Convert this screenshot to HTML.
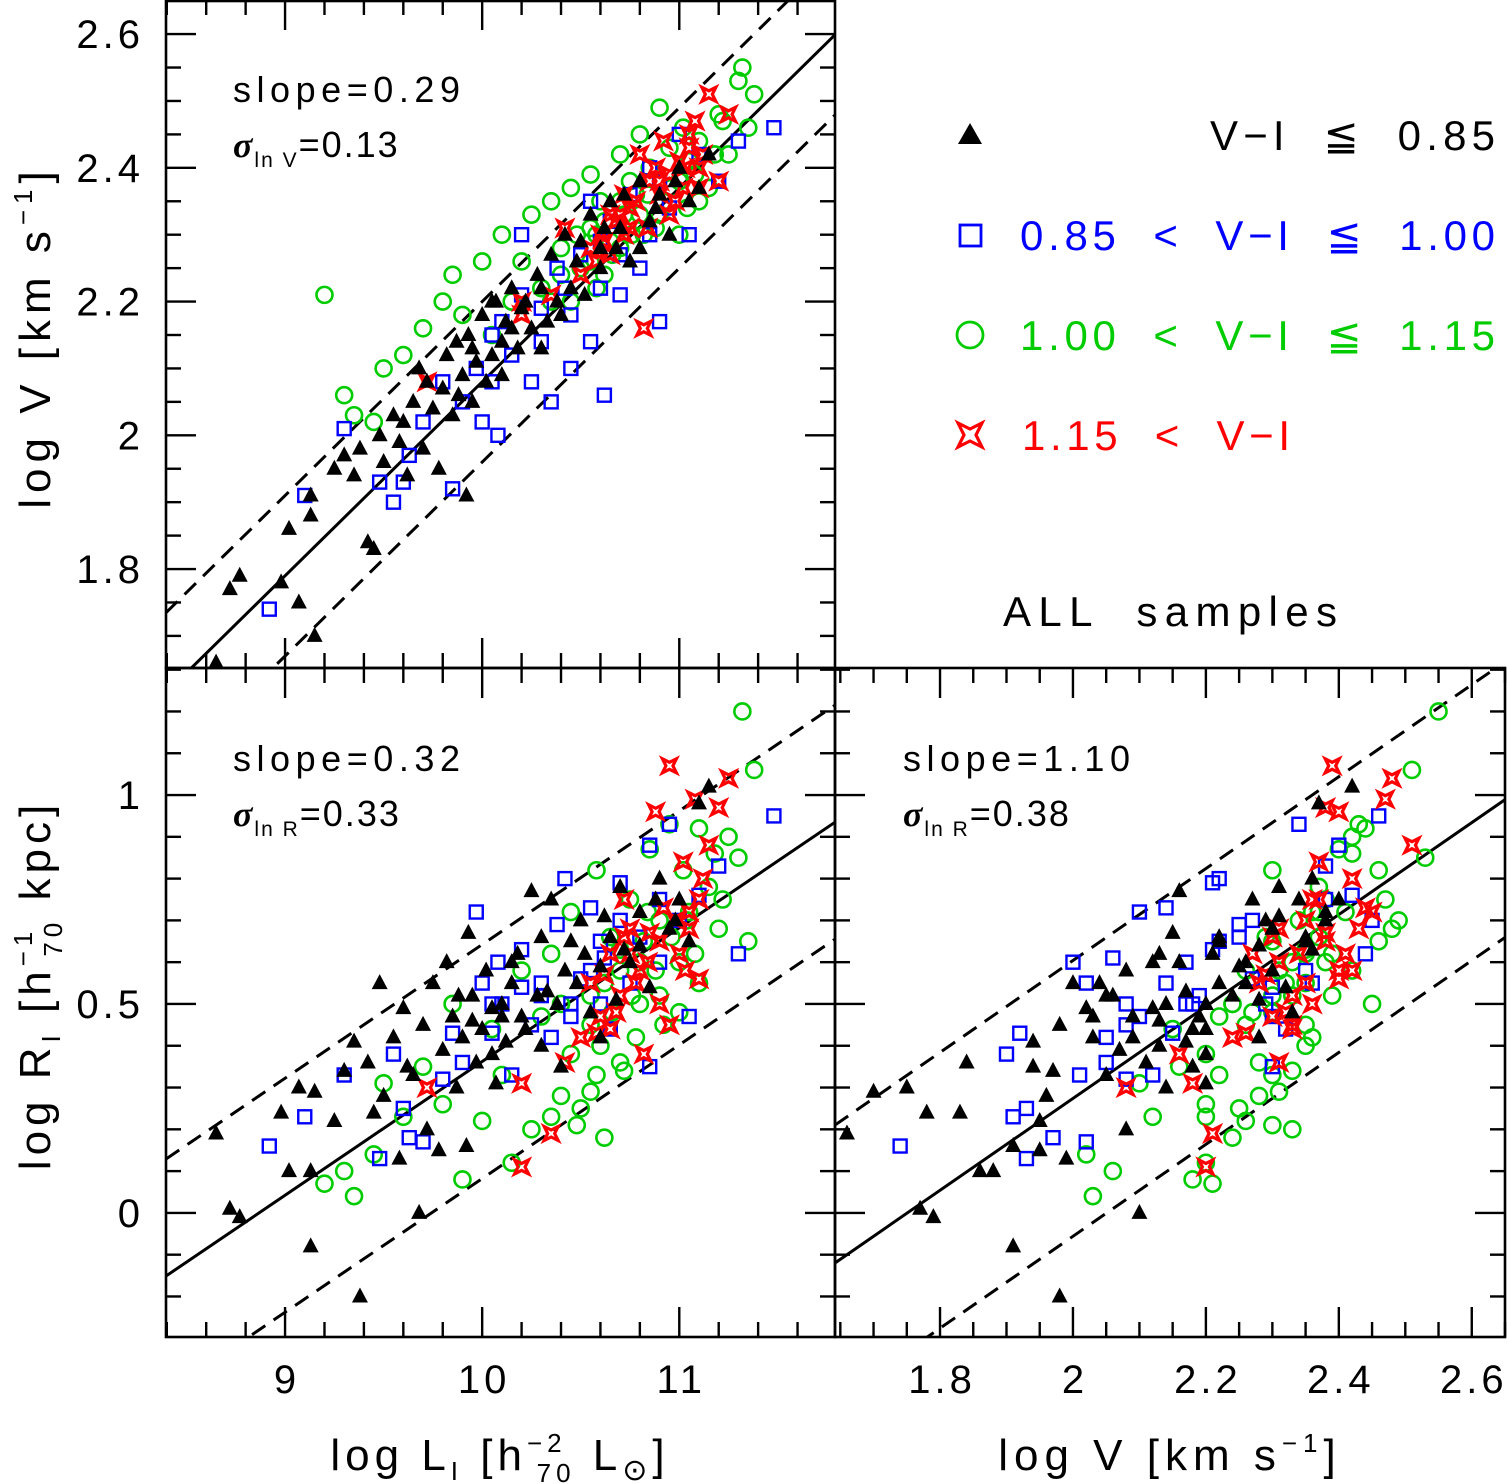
<!DOCTYPE html>
<html><head><meta charset="utf-8"><style>
html,body{margin:0;padding:0;background:#fff}
svg{display:block}
text{font-family:"Liberation Sans",sans-serif;fill:#000}
</style></head><body>
<svg id="chart" width="1507" height="1484" viewBox="0 0 1507 1484" xmlns="http://www.w3.org/2000/svg">
<g id="layer"></g>
<!-- inner annotations -->
<text x="233" y="102" font-size="36" textLength="227" lengthAdjust="spacing">slope=0.29</text>
<text x="233" y="157" font-size="36" letter-spacing="2"><tspan font-family="Liberation Serif" font-style="italic" font-weight="bold">σ</tspan><tspan font-size="21" dy="10">ln V</tspan><tspan dy="-10">=0.13</tspan></text>
<text x="233" y="771" font-size="36" textLength="227" lengthAdjust="spacing">slope=0.32</text>
<text x="233" y="826" font-size="36" letter-spacing="2"><tspan font-family="Liberation Serif" font-style="italic" font-weight="bold">σ</tspan><tspan font-size="21" dy="10">ln R</tspan><tspan dy="-10">=0.33</tspan></text>
<text x="903" y="771" font-size="36" textLength="227" lengthAdjust="spacing">slope=1.10</text>
<text x="903" y="826" font-size="36" letter-spacing="2"><tspan font-family="Liberation Serif" font-style="italic" font-weight="bold">σ</tspan><tspan font-size="21" dy="10">ln R</tspan><tspan dy="-10">=0.38</tspan></text>
<!-- legend -->
<g>
<polygon points="970,123 958,144 982,144" fill="#000"/>
<text x="1210" y="150" font-size="42" textLength="285" lengthAdjust="spacing" xml:space="preserve">V−I  ≦  0.85</text>
<rect x="960" y="225" width="21" height="21" fill="none" stroke="#0000ff" stroke-width="2.8"/>
<text x="1020" y="250" font-size="42" textLength="475" lengthAdjust="spacing" style="fill:#0000ff" xml:space="preserve">0.85  &lt;  V−I  ≦  1.00</text>
<circle cx="970" cy="335" r="13" fill="none" stroke="#00cc00" stroke-width="2.8"/>
<text x="1020" y="350" font-size="42" textLength="475" lengthAdjust="spacing" style="fill:#00cc00" xml:space="preserve">1.00  &lt;  V−I  ≦  1.15</text>
<path d="M958,423 L970,429 L982,423 L976,435 L982,447 L970,441 L958,447 L964,435 Z" fill="none" stroke="#ff0000" stroke-width="3.2"/>
<text x="1022" y="450" font-size="42" textLength="268" lengthAdjust="spacing" style="fill:#ff0000" xml:space="preserve">1.15  &lt;  V−I</text>
<text x="1003" y="626" font-size="42" textLength="334" lengthAdjust="spacing" xml:space="preserve">ALL  samples</text>
</g>
<!-- axis titles -->
<text transform="translate(50,337) rotate(-90)" font-size="44" letter-spacing="6" text-anchor="middle">log V [km s<tspan font-size="26" dy="-18">−1</tspan><tspan dy="18">]</tspan></text>
<text transform="translate(50,985) rotate(-90)" font-size="44" letter-spacing="5" text-anchor="middle">log R<tspan font-size="26" dy="10">I</tspan><tspan dy="-10"> [h</tspan><tspan font-size="26" dy="-18">−1</tspan><tspan font-size="26" dx="-30" dy="30">70</tspan><tspan dy="-12"> kpc]</tspan></text>
<text x="500" y="1470" font-size="44" letter-spacing="5" text-anchor="middle">log L<tspan font-size="26" dy="10">I</tspan><tspan dy="-10"> [h</tspan><tspan font-size="26" dy="-18">−2</tspan><tspan font-size="26" dx="-30" dy="30">70</tspan><tspan dy="-12"> L</tspan><tspan font-size="30" dy="10">⊙</tspan><tspan dy="-10">]</tspan></text>
<text x="1170" y="1470" font-size="44" letter-spacing="6" text-anchor="middle">log V [km s<tspan font-size="26" dy="-18">−1</tspan><tspan dy="18">]</tspan></text>
</svg>
<script>
// galaxies: [log L, log V, log R]
const blackPts=[[8.65,1.66,0.19],[8.72,1.77,0.01],[8.77,1.79,-0.01],[8.98,1.78,0.24],[9.02,1.86,0.10],[9.07,1.75,0.30],[9.13,1.91,-0.08],[9.15,1.70,0.29],[9.13,1.88,0.10],[9.25,1.95,0.22],[9.3,1.97,0.34],[9.35,1.94,0.41],[9.38,1.98,-0.2],[9.42,1.84,0.36],[9.45,1.83,0.24],[9.48,2.0,0.55],[9.5,1.96,0.28],[9.55,2.03,0.42],[9.58,1.99,0.13],[9.6,2.02,0.49],[9.62,1.94,0.35],[9.65,2.05,0.33],[9.68,2.1,0.0],[9.7,1.98,0.45],[9.72,2.08,0.2],[9.75,2.04,0.55],[9.78,1.95,0.15],[9.8,2.07,0.39],[9.82,2.12,0.6],[9.85,2.03,0.47],[9.87,2.14,0.3],[9.9,2.09,0.42],[9.92,1.91,0.16],[9.93,2.15,0.67],[9.95,2.05,0.52],[9.97,2.11,0.36],[10.0,2.18,0.44],[10.02,2.08,0.58],[10.05,2.12,0.49],[10.07,2.2,0.31],[10.1,2.14,0.5],[10.12,2.17,0.41],[10.15,2.22,0.55],[10.18,2.13,0.62],[10.2,2.19,0.47],[10.25,2.16,0.77],[10.28,2.24,0.52],[10.3,2.13,0.4],[10.35,2.27,0.75],[10.38,2.2,0.5],[10.42,2.3,0.58],[10.45,2.22,0.65],[10.5,2.29,0.7],[10.55,2.33,0.48],[10.6,2.25,0.59],[10.65,2.35,0.66],[10.7,2.31,0.78],[10.75,2.26,0.6],[10.8,2.38,0.72],[10.85,2.32,0.54],[10.9,2.36,0.8],[10.95,2.3,0.68],[11.0,2.4,0.75],[11.05,2.35,0.65],[11.1,2.37,0.98],[11.15,2.42,1.02],[10.4,2.18,0.35],[10.6,2.28,0.42],[10.8,2.28,0.64],[10.1,2.09,0.47],[10.15,2.16,0.6],[10.22,2.2,0.44],[10.3,2.22,0.66],[10.33,2.17,0.53],[10.48,2.26,0.55],[10.52,2.21,0.62],[10.62,2.31,0.71],[10.68,2.28,0.51],[10.72,2.36,0.63],[10.88,2.34,0.75],[10.98,2.38,0.7],[9.88,2.06,0.52],[9.95,2.13,0.46],[10.05,2.2,0.38]];
const bluePts=[[8.92,1.74,0.16],[9.1,1.91,0.23],[9.3,2.01,0.33],[9.48,1.93,0.13],[9.55,1.9,0.38],[9.6,1.93,0.25],[9.63,1.97,0.18],[9.7,2.02,0.17],[9.8,2.08,0.32],[9.85,1.92,0.43],[9.9,2.05,0.36],[9.97,2.1,0.72],[10.0,2.02,0.55],[10.05,2.15,0.43],[10.08,2.0,0.6],[10.1,2.17,0.5],[10.15,2.12,0.33],[10.2,2.21,0.63],[10.25,2.08,0.45],[10.3,2.19,0.52],[10.35,2.05,0.42],[10.38,2.25,0.69],[10.42,2.22,0.8],[10.45,2.1,0.47],[10.5,2.27,0.56],[10.55,2.14,0.73],[10.6,2.29,0.5],[10.62,2.06,0.61],[10.65,2.32,0.44],[10.7,2.21,0.79],[10.75,2.36,0.55],[10.8,2.25,0.66],[10.85,2.4,0.88],[10.9,2.17,0.6],[10.95,2.34,0.93],[11.0,2.45,0.7],[11.05,2.3,0.47],[11.1,2.42,0.76],[11.2,2.38,0.83],[11.3,2.44,0.62],[11.48,2.46,0.95],[10.85,2.3,0.35],[10.55,2.35,0.58],[10.2,2.3,0.54],[10.3,2.14,0.55],[10.45,2.18,0.5],[10.6,2.22,0.65],[10.7,2.27,0.7],[10.9,2.38,0.75],[10.05,2.08,0.5]];
const greenPts=[[9.2,2.21,0.07],[9.3,2.06,0.1],[9.35,2.03,0.04],[9.45,2.02,0.14],[9.5,2.1,0.31],[9.6,2.12,0.23],[9.7,2.16,0.35],[9.8,2.2,0.26],[9.85,2.24,0.5],[9.9,2.18,0.08],[10.0,2.26,0.22],[10.05,2.15,0.44],[10.1,2.3,0.33],[10.15,2.2,0.12],[10.2,2.26,0.58],[10.25,2.33,0.2],[10.3,2.22,0.47],[10.35,2.35,0.62],[10.4,2.28,0.28],[10.45,2.37,0.72],[10.5,2.25,0.25],[10.55,2.39,0.52],[10.58,2.3,0.82],[10.6,2.35,0.4],[10.65,2.29,0.66],[10.7,2.42,0.58],[10.72,2.33,0.34],[10.75,2.38,0.75],[10.8,2.45,0.5],[10.82,2.3,0.65],[10.85,2.4,0.87],[10.9,2.49,0.7],[10.92,2.35,0.45],[10.95,2.43,0.93],[11.0,2.38,0.6],[11.02,2.46,0.82],[11.05,2.41,0.72],[11.1,2.44,0.92],[11.15,2.37,0.78],[11.2,2.48,0.68],[11.25,2.42,0.9],[11.3,2.53,0.85],[11.35,2.46,0.65],[11.32,2.55,1.2],[11.38,2.51,1.06],[11.22,2.47,0.75],[10.62,2.24,0.18],[10.48,2.3,0.21],[10.7,2.28,0.36],[10.35,2.2,0.23],[10.9,2.33,0.52],[11.1,2.35,0.55],[10.55,2.31,0.29],[10.78,2.36,0.42],[11.0,2.3,0.48],[10.55,2.26,0.45],[10.62,2.32,0.55],[10.66,2.27,0.48],[10.7,2.35,0.63],[10.76,2.3,0.52],[10.8,2.33,0.6],[10.84,2.36,0.72],[10.88,2.31,0.58],[10.96,2.37,0.66],[11.04,2.34,0.7],[11.08,2.39,0.62],[10.4,2.24,0.5],[10.45,2.2,0.38],[10.58,2.22,0.33],[11.18,2.42,0.86]];
const redPts=[[9.72,2.08,0.3],[10.2,2.18,0.31],[10.2,2.2,0.11],[10.35,2.21,0.19],[10.42,2.31,0.36],[10.5,2.24,0.42],[10.55,2.28,0.55],[10.6,2.3,0.47],[10.65,2.27,0.62],[10.7,2.33,0.52],[10.72,2.36,0.75],[10.75,2.31,0.68],[10.8,2.42,0.58],[10.82,2.16,0.38],[10.85,2.38,0.67],[10.88,2.4,0.96],[10.9,2.36,0.5],[10.92,2.44,0.73],[10.95,2.39,1.07],[11.0,2.41,0.62],[11.02,2.37,0.84],[11.05,2.45,0.72],[11.08,2.47,0.99],[11.1,2.4,0.56],[11.12,2.42,0.8],[11.15,2.51,0.88],[11.2,2.38,0.97],[11.25,2.48,1.04],[10.95,2.33,0.45],[10.75,2.34,0.62],[11.05,2.43,0.68],[10.65,2.33,0.44],[10.62,2.29,0.57],[10.68,2.32,0.48],[10.78,2.35,0.55],[10.84,2.31,0.6],[10.9,2.38,0.65],[10.98,2.35,0.7],[11.03,2.4,0.58],[11.1,2.37,0.75],[10.58,2.26,0.43],[10.72,2.3,0.66]];
// fits: [slope, intercept at reference x, reference x, dashed offset]
const fitLV=[0.29,2.599,11.79,0.12];
const fitLR=[0.32,0.935,11.79,0.28];
const fitVR=[1.10,0.989,2.65,0.33];
const xTicksL=[9,10,11];
const xTicksV=[1.8,2,2.2,2.4,2.6];
const yTicksV=[1.8,2,2.2,2.4,2.6];
const yTicksR=[0,0.5,1];

const NS="http://www.w3.org/2000/svg";
const layer=document.getElementById('layer');
function mk(tag,attrs,parent){const e=document.createElementNS(NS,tag);for(const k in attrs)e.setAttribute(k,attrs[k]);(parent||layer).appendChild(e);return e;}
function scale(d0,d1,r0,r1){return v=>r0+(v-d0)/(d1-d0)*(r1-r0);}

const panels={
 lv:{x0:166,x1:835,y0:0,y1:668,sx:scale(8.396,11.79,166,835),sy:scale(1.652,2.651,668,0),xd:[8.396,11.79],yd:[1.652,2.651]},
 lr:{x0:166,x1:835,y0:668,y1:1337,sx:scale(8.396,11.79,166,835),sy:scale(-0.297,1.304,1337,668),xd:[8.396,11.79],yd:[-0.297,1.304]},
 vr:{x0:835,x1:1505,y0:668,y1:1337,sx:scale(1.642,2.65,835,1505),sy:scale(-0.297,1.304,1337,668),xd:[1.642,2.65],yd:[-0.297,1.304]}
};
for(const k in panels){const p=panels[k];
 const cp=mk('clipPath',{id:'clip-'+k});mk('rect',{x:p.x0,y:p.y0,width:p.x1-p.x0,height:p.y1-p.y0},cp);
 p.g=mk('g',{'clip-path':'url(#clip-'+k+')'});
 
 
}
function drawFit(p,fit,name){
 const [s,b,xr,off]=fit;
 const f=x=>b+s*(x-xr);
 [[0,'none','solid'],[off,'16,10','upper'],[-off,'16,10','lower']].forEach(([o,da,n])=>{
  const l=mk('line',{x1:p.sx(p.xd[0]),y1:p.sy(f(p.xd[0])+o),x2:p.sx(p.xd[1]),y2:p.sy(f(p.xd[1])+o),stroke:'#000','stroke-width':3,'stroke-dasharray':da},p.g);
  
  
 });
}
function marker(p,x,y,type,name){
 const X=p.sx(x),Y=p.sy(y);let e;
 if(type==='black')e=mk('polygon',{points:`${X},${Y-9} ${X-8},${Y+6} ${X+8},${Y+6}`,fill:'#000'},p.g);
 else if(type==='blue')e=mk('rect',{x:X-6.5,y:Y-6.5,width:13,height:13,fill:'none',stroke:'#0000ff','stroke-width':2.4},p.g);
 else if(type==='green')e=mk('circle',{cx:X,cy:Y,r:8,fill:'none',stroke:'#00cc00','stroke-width':2.6},p.g);
 else e=mk('path',{d:`M${X-7},${Y-7} L${X},${Y-3.5} L${X+7},${Y-7} L${X+3.5},${Y} L${X+7},${Y+7} L${X},${Y+3.5} L${X-7},${Y+7} L${X-3.5},${Y} Z`,fill:'none',stroke:'#ff0000','stroke-width':3.2},p.g);
 
 
}
const sets=[['green',greenPts],['blue',bluePts],['red',redPts],['black',blackPts]];
drawFit(panels.lv,fitLV,'lv');drawFit(panels.lr,fitLR,'lr');drawFit(panels.vr,fitVR,'vr');
sets.forEach(([c,arr])=>arr.forEach((d,i)=>{
 marker(panels.lv,d[0],d[1],c,'point-lv-'+c+'-'+i);
 marker(panels.lr,d[0],d[2],c,'point-lr-'+c+'-'+i);
 marker(panels.vr,d[1],d[2],c,'point-vr-'+c+'-'+i);
}));
function ticks(p,axis,minorStep,majorStep,labels,name){
 const d=axis==='x'?p.xd:p.yd;
 const start=Math.ceil(d[0]/minorStep-1e-6);
 for(let i=start;i*minorStep<=d[1]+1e-9;i++){
  const v=i*minorStep;const major=Math.abs(v/majorStep-Math.round(v/majorStep))<1e-6;
  const L=major?30:15;
  if(axis==='x'){const X=p.sx(v);
   mk('line',{x1:X,y1:p.y1,x2:X,y2:p.y1-L,stroke:'#000','stroke-width':2.4});
   mk('line',{x1:X,y1:p.y0,x2:X,y2:p.y0+L,stroke:'#000','stroke-width':2.4});
  }else{const Y=p.sy(v);
   mk('line',{x1:p.x0,y1:Y,x2:p.x0+L,y2:Y,stroke:'#000','stroke-width':2.4});
   mk('line',{x1:p.x1,y1:Y,x2:p.x1-L,y2:Y,stroke:'#000','stroke-width':2.4});
  }
 }
 if(labels)labels.forEach(v=>{
  let t;
  if(axis==='x')t=mk('text',{x:p.sx(v)+2,y:1393,'font-size':40,'letter-spacing':4,'text-anchor':'middle'});
  else t=mk('text',{x:144,y:p.sy(v)+14,'font-size':40,'letter-spacing':4,'text-anchor':'end'});
  t.textContent=String(v);
  
  
 });
}
ticks(panels.lv,'x',0.2,1,null,'lv-x');
ticks(panels.lv,'y',0.05,0.2,yTicksV,'lv-y');
ticks(panels.lr,'x',0.2,1,xTicksL,'lr-x');
ticks(panels.lr,'y',0.1,0.5,yTicksR,'lr-y');
ticks(panels.vr,'x',0.05,0.2,xTicksV,'vr-x');
ticks(panels.vr,'y',0.1,0.5,null,'vr-y');
for(const k in panels){const p=panels[k];
 const r=mk('rect',{x:p.x0,y:p.y0+(k==='lv'?1:0),width:p.x1-p.x0,height:p.y1-p.y0-(k==='lv'?1:0),fill:'none',stroke:'#000','stroke-width':2.6});
 
 
}
</script>
</body></html>
